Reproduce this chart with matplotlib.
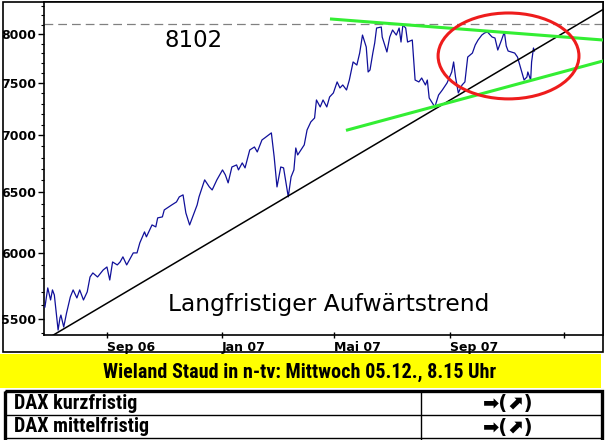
import matplotlib
matplotlib.use('Agg')
import matplotlib.pyplot as plt
import pandas as pd
from matplotlib.patches import Ellipse, Rectangle
from matplotlib.ticker import NullFormatter

# DAX daily closes (roughly every 3 trading days)
dates = ['2006-06-27', '2006-06-30', '2006-07-03', '2006-07-05', '2006-07-07', '2006-07-11',
         '2006-07-13', '2006-07-14', '2006-07-17', '2006-07-20', '2006-07-24', '2006-07-27',
         '2006-07-31', '2006-08-03', '2006-08-07', '2006-08-11', '2006-08-14', '2006-08-17',
         '2006-08-22', '2006-08-28', '2006-09-01', '2006-09-04', '2006-09-07', '2006-09-12',
         '2006-09-15', '2006-09-18', '2006-09-22', '2006-09-29', '2006-10-03', '2006-10-06',
         '2006-10-11', '2006-10-13', '2006-10-19', '2006-10-23', '2006-10-25', '2006-10-30',
         '2006-11-01', '2006-11-09', '2006-11-14', '2006-11-17', '2006-11-21', '2006-11-24',
         '2006-11-28', '2006-12-04', '2006-12-06', '2006-12-08', '2006-12-14', '2006-12-19',
         '2006-12-22', '2006-12-27', '2007-01-02', '2007-01-05', '2007-01-08', '2007-01-12',
         '2007-01-17', '2007-01-19', '2007-01-23', '2007-01-26', '2007-01-31', '2007-02-05',
         '2007-02-08', '2007-02-13', '2007-02-16', '2007-02-23', '2007-02-26', '2007-03-01',
         '2007-03-05', '2007-03-08', '2007-03-13', '2007-03-16', '2007-03-19', '2007-03-21',
         '2007-03-23', '2007-03-30', '2007-04-02', '2007-04-06', '2007-04-10', '2007-04-12',
         '2007-04-16', '2007-04-19', '2007-04-23', '2007-04-26', '2007-04-30', '2007-05-04',
         '2007-05-07', '2007-05-10', '2007-05-14', '2007-05-17', '2007-05-21', '2007-05-25',
         '2007-05-28', '2007-05-31', '2007-06-04', '2007-06-06', '2007-06-08', '2007-06-11',
         '2007-06-13', '2007-06-15', '2007-06-20', '2007-06-21', '2007-06-26', '2007-06-29',
         '2007-07-02', '2007-07-06', '2007-07-09', '2007-07-11', '2007-07-13', '2007-07-16',
         '2007-07-18', '2007-07-23', '2007-07-26', '2007-07-30', '2007-08-02', '2007-08-06',
         '2007-08-08', '2007-08-10', '2007-08-16', '2007-08-20', '2007-08-24', '2007-08-29',
         '2007-09-03', '2007-09-05', '2007-09-07', '2007-09-10', '2007-09-14', '2007-09-17',
         '2007-09-20', '2007-09-25', '2007-09-28', '2007-10-01', '2007-10-05', '2007-10-08',
         '2007-10-11', '2007-10-16', '2007-10-19', '2007-10-22', '2007-10-26', '2007-10-29',
         '2007-10-31', '2007-11-02', '2007-11-09', '2007-11-12', '2007-11-16', '2007-11-19',
         '2007-11-22', '2007-11-23', '2007-11-26', '2007-11-27', '2007-11-29', '2007-11-30']
dax = [5586, 5728, 5638, 5713, 5675, 5419,
       5506, 5527, 5441, 5542, 5660, 5713,
       5653, 5713, 5638, 5698, 5811, 5842,
       5811, 5865, 5888, 5788, 5927, 5904,
       5927, 5967, 5904, 5998, 5998, 6078,
       6166, 6126, 6223, 6207, 6281, 6289,
       6347, 6389, 6414, 6457, 6474, 6322,
       6223, 6347, 6389, 6457, 6603, 6542,
       6516, 6603, 6690, 6647, 6577, 6716,
       6734, 6690, 6752, 6708, 6868, 6895,
       6850, 6959, 6978, 7024, 6805, 6542,
       6716, 6708, 6457, 6629, 6690, 6886,
       6823, 6914, 7051, 7126, 7163, 7335,
       7268, 7335, 7268, 7364, 7403, 7511,
       7452, 7481, 7432, 7530, 7711, 7680,
       7802, 7989, 7864, 7610, 7630, 7802,
       7906, 8063, 8074, 7968, 7813, 7968,
       8042, 7989, 8063, 7916, 8095, 8063,
       7916, 7937, 7530, 7511, 7550, 7481,
       7530, 7354, 7268, 7383, 7432, 7501,
       7610, 7711, 7560, 7403, 7481, 7511,
       7761, 7802, 7885, 7937, 7989, 8011,
       8021, 7968, 7958, 7833, 7937, 8021,
       7875, 7823, 7802, 7761, 7630, 7530,
       7560, 7610, 7530, 7711, 7854, 7823]

high_mark = 8102
yticks = [5500, 6000, 6500, 7000, 7500, 8000]
xtick_dates = ['2006-09-01', '2007-01-01', '2007-05-01', '2007-09-01', '2008-01-01']
xtick_labels = ['Sep 06', 'Jan 07', 'Mai 07', 'Sep 07', '']

# trend lines: (start date, start value), (end date, end value)
long_trend = [('2006-07-06', 5384), ('2008-02-11', 8262)]
upper_green = [('2007-04-28', 8159), ('2008-02-11', 7937)]
lower_green = [('2007-05-15', 7051), ('2008-02-11', 7721)]

header = 'Wieland Staud in n-tv: Mittwoch 05.12., 8.15 Uhr'
rows = ['DAX kurzfristig', 'DAX mittelfristig']
signals = ['\u27a1(\u2b08)', '\u27a1(\u2b08)']

narrow = ['Roboto Condensed', 'Liberation Sans Narrow', 'Liberation Sans']

W, H = 606, 440
fig = plt.figure(figsize=(W / 100, H / 100), dpi=100)

# overlay in pixel units for frame, yellow band and table
bg = fig.add_axes([0, 0, 1, 1], zorder=-1)
bg.set_xlim(0, W)
bg.set_ylim(H, 0)
bg.axis('off')
bg.add_patch(Rectangle((3, 2), 600, 350, fill=False, ec='black', lw=1.2))
bg.add_patch(Rectangle((0, 354), 601, 34, fc='#ffff00', ec='none'))
bg.text(300, 372, header, ha='center', va='center', fontsize=14.5, fontweight='bold',
        family=narrow)
bg.add_patch(Rectangle((4.5, 391.5), 597, 60, fill=False, ec='black', lw=2.4))
bg.plot([4.5, 601.5], [415, 415], color='black', lw=1)
bg.plot([4.5, 601.5], [438.5, 438.5], color='black', lw=1)
bg.plot([421, 421], [391.5, 440], color='black', lw=1)
for i, (name, sig) in enumerate(zip(rows, signals)):
    yc = 403.5 + i * 23.5
    bg.text(14, yc, name, ha='left', va='center', fontsize=14.5, fontweight='bold',
            family=narrow)
    bg.text(508, yc, sig, ha='center', va='center', fontsize=14, fontweight='bold',
            family=['DejaVu Sans'])

# chart axes
ax = fig.add_axes([44 / W, 1 - 335 / H, (603 - 44) / W, (335 - 2) / H])
ax.plot(pd.to_datetime(dates), dax, color='#10109a', lw=0.9, zorder=3)

ax.set_yscale('log')
ax.set_ylim(5384, 8344)
ax.set_xlim(pd.Timestamp('2006-06-26'), pd.Timestamp('2008-02-11'))

ax.axhline(high_mark, color='#808080', lw=0.9, ls=(0, (7, 4)), zorder=2)

for seg, col, lw in [(long_trend, 'black', 1.1), (upper_green, '#33ee33', 2.2),
                     (lower_green, '#33ee33', 2.2)]:
    xs = pd.to_datetime([p[0] for p in seg])
    ys = [p[1] for p in seg]
    ax.plot(xs, ys, color=col, lw=lw, zorder=4)

ax.add_patch(Ellipse((0.831, 0.838), 0.252, 0.258, transform=ax.transAxes,
                     fill=False, ec='#ee1c1c', lw=2.2, zorder=5))

ax.set_yticks(yticks, labels=[str(v) for v in yticks])
ax.set_yticks([v for v in range(5400, 8400, 100) if v not in yticks], minor=True)
ax.yaxis.set_minor_formatter(NullFormatter())
ax.set_xticks(pd.to_datetime(xtick_dates), labels=xtick_labels)
for lab in ax.get_xticklabels():
    lab.set_horizontalalignment('left')
ax.tick_params(axis='y', which='major', direction='out', length=4, width=1, pad=1.5,
               labelsize=9)
ax.tick_params(axis='y', which='minor', direction='out', length=2, width=0.8)
ax.tick_params(axis='x', which='major', direction='inout', length=5, width=1, pad=2,
               labelsize=9)
for lab in ax.get_xticklabels() + ax.get_yticklabels():
    lab.set_fontweight('bold')
for s in ax.spines.values():
    s.set_linewidth(1.2)

fig.text(165 / W, 1 - 47 / H, str(high_mark), fontsize=16.5, ha='left', va='baseline')
fig.text(168 / W, 1 - 311 / H, 'Langfristiger Aufwärtstrend', fontsize=16.8,
         ha='left', va='baseline')

fig.savefig('out.png', dpi=100)
